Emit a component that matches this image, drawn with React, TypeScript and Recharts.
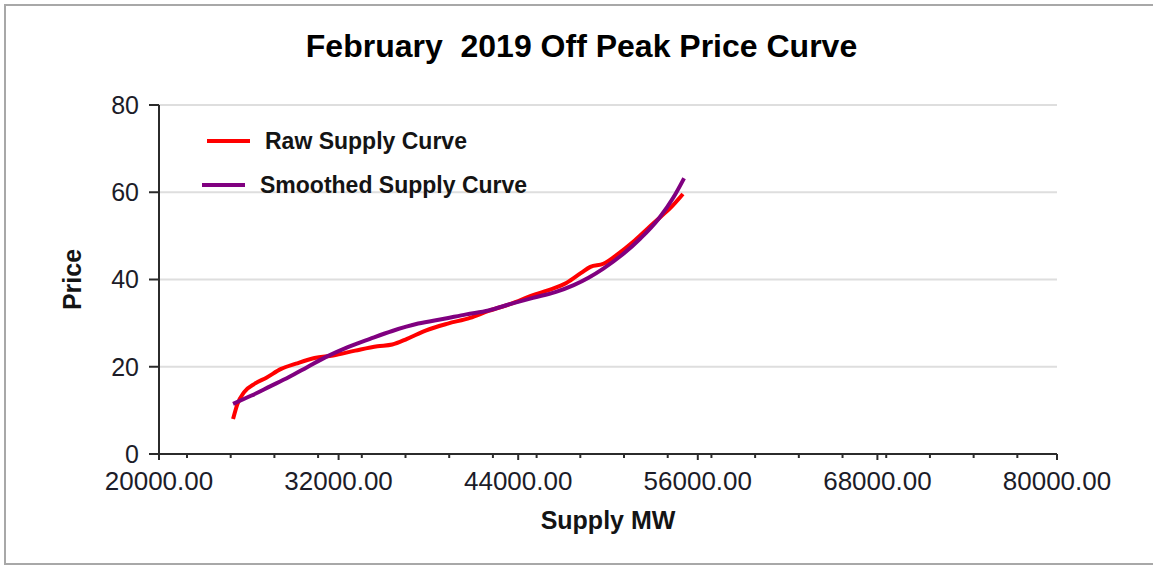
import {
  LineChart,
  Line,
  XAxis,
  YAxis,
  CartesianGrid,
  Legend,
} from "recharts";

// Supply MW / price
const rawSupply = [
  24948, 25245, 25690, 26432, 27175, 28164, 29154, 30391, 31628, 33112,
  34597, 35586, 36576, 37813, 39297, 40782, 42019, 43503, 44987, 45977,
  47214, 48204, 48822, 49688, 50678, 51667, 52657, 53523, 54141, 55007,
];
const rawPrice = [
  8.0, 11.5, 14.2, 16.2, 17.5, 19.5, 20.7, 22.0, 22.6, 23.7,
  24.7, 25.1, 26.4, 28.3, 29.9, 31.2, 32.8, 34.4, 36.4, 37.5,
  39.2, 41.5, 42.9, 43.6, 45.9, 48.6, 51.7, 54.4, 56.3, 59.6,
];

const smoothSupply = [
  24948, 26185, 27422, 28659, 29896, 31133, 32617, 34102, 35586, 37318,
  39050, 40534, 42019, 43503, 44987, 46472, 47709, 48698, 49688, 50925,
  52162, 53399, 54389, 55082,
];
const smoothPrice = [
  11.5, 13.4, 15.5, 17.6, 19.9, 22.2, 24.5, 26.4, 28.2, 29.9,
  31.0, 32.0, 32.9, 34.4, 35.8, 37.1, 38.7, 40.4, 42.5, 45.6,
  49.4, 54.0, 58.9, 63.2,
];

const xTicks = [20000, 32000, 44000, 56000, 68000, 80000];
const xMinorTicks = [
  21870, 24790, 27710, 30630, 33550, 36470, 39390, 42310, 45230, 48150,
  51070, 53990, 56910, 59830, 62750, 65670, 68590, 71510, 74430, 77350,
];
const yTicks = [0, 20, 40, 60, 80];

const rawData = rawSupply.map((x, i) => ({ x, y: rawPrice[i] }));
const smoothData = smoothSupply.map((x, i) => ({ x, y: smoothPrice[i] }));
const allXTicks = [...xTicks, ...xMinorTicks].sort((a, b) => a - b);

const FONT = '"Liberation Sans", Arial, sans-serif';
const TICK_COLOR = "#1c1c28";
const AXIS_COLOR = "#2b2b2b";
const X_TICK_SIZE = 6;
const X_TICK_MARGIN = 12;

// draws the tick mark itself so minor ticks can be shorter and unlabeled
const XTick = (props: any) => {
  const { x, y, payload } = props;
  const axisY = y - X_TICK_SIZE - X_TICK_MARGIN;
  const isMajor = xTicks.includes(payload.value);
  return (
    <g>
      <line
        x1={x}
        x2={x}
        y1={axisY}
        y2={axisY + (isMajor ? X_TICK_SIZE : 4)}
        stroke={AXIS_COLOR}
        strokeWidth={2}
      />
      {isMajor && (
        <text
          x={x}
          y={y}
          dy="0.71em"
          textAnchor="middle"
          fontSize={26}
          fontFamily={FONT}
          fill={TICK_COLOR}
        >
          {payload.value.toFixed(2)}
        </text>
      )}
    </g>
  );
};

const renderLegend = (props: any) => {
  const { payload } = props;
  return (
    <div style={{ fontFamily: FONT }}>
      {payload.map((entry: any, index: number) => (
        <div
          key={`item-${index}`}
          style={{
            display: "flex",
            alignItems: "center",
            height: 44,
            paddingLeft: index === 0 ? 5 : 0,
          }}
        >
          <span
            style={{
              display: "inline-block",
              width: 43,
              height: 4,
              background: entry.color,
              marginRight: 15,
            }}
          />
          <span
            style={{
              fontSize: 23,
              fontWeight: "bold",
              color: "#141414",
              whiteSpace: "nowrap",
            }}
          >
            {entry.value}
          </span>
        </div>
      ))}
    </div>
  );
};

export default function App() {
  return (
    <div
      style={{
        position: "fixed",
        left: 0,
        top: 0,
        width: 1153,
        height: 565,
        background: "#fff",
        overflow: "hidden",
      }}
    >
      <div
        style={{
          position: "absolute",
          left: 4,
          top: 4,
          width: 1170,
          height: 561,
          border: "2px solid #a8a8a8",
          boxSizing: "border-box",
        }}
      />
      <div
        style={{
          position: "absolute",
          left: 0,
          top: 30,
          width: 1163,
          textAlign: "center",
          fontFamily: FONT,
          fontWeight: "bold",
          fontSize: 32,
          lineHeight: "32px",
          color: "#000",
          whiteSpace: "pre",
        }}
      >
        February  2019 Off Peak Price Curve
      </div>
      <LineChart
        width={1153}
        height={565}
        margin={{ top: 105, right: 96, left: 39, bottom: 31 }}
        style={{ position: "absolute", left: 0, top: 0 }}
      >
        <CartesianGrid
          vertical={false}
          stroke="#dedede"
          strokeWidth={2}
          horizontalValues={[20, 40, 60, 80]}
        />
        <XAxis
          type="number"
          dataKey="x"
          domain={[20000, 80000]}
          ticks={allXTicks}
          interval={0}
          height={80}
          axisLine={{ stroke: AXIS_COLOR, strokeWidth: 2 }}
          tickLine={false}
          tickSize={X_TICK_SIZE}
          tickMargin={X_TICK_MARGIN}
          tick={<XTick />}
          label={{
            value: "Supply MW",
            position: "insideBottom",
            offset: 5,
            style: {
              fontSize: 25,
              fontWeight: "bold",
              fontFamily: FONT,
              fill: "#141414",
            },
          }}
        />
        <YAxis
          type="number"
          domain={[0, 80]}
          ticks={yTicks}
          interval={0}
          width={120}
          axisLine={{ stroke: AXIS_COLOR, strokeWidth: 2 }}
          tickLine={{ stroke: AXIS_COLOR, strokeWidth: 2 }}
          tickSize={10}
          tickMargin={10}
          tick={{ fontSize: 25, fontFamily: FONT, fill: TICK_COLOR }}
          label={{
            value: "Price",
            angle: -90,
            position: "insideLeft",
            offset: 33,
            style: {
              fontSize: 25,
              fontWeight: "bold",
              fontFamily: FONT,
              fill: "#141414",
              textAnchor: "middle",
            },
          }}
        />
        <Legend
          layout="vertical"
          align="center"
          verticalAlign="middle"
          content={renderLegend}
          wrapperStyle={{ left: 202, top: 119, width: 400 }}
        />
        <Line
          data={rawData}
          dataKey="y"
          name="Raw Supply Curve"
          type="monotone"
          stroke="#ff0000"
          strokeWidth={4}
          dot={false}
          isAnimationActive={false}
        />
        <Line
          data={smoothData}
          dataKey="y"
          name="Smoothed Supply Curve"
          type="monotone"
          stroke="#800080"
          strokeWidth={4}
          dot={false}
          isAnimationActive={false}
        />
      </LineChart>
    </div>
  );
}
